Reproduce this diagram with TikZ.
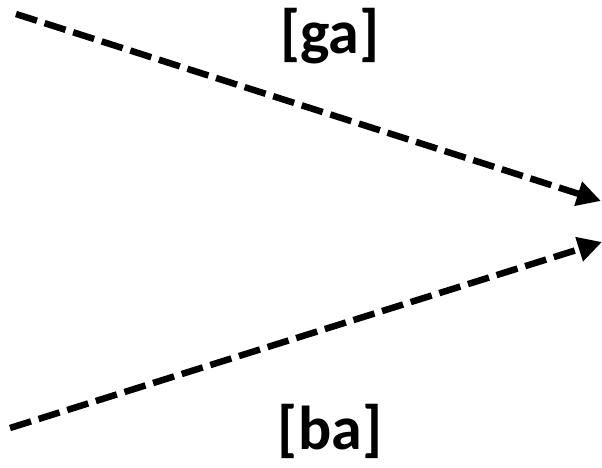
\documentclass[tikz,border=0pt]{standalone}
\usepackage{fontspec}
\setmainfont{Carlito}
\usetikzlibrary{arrows.meta}
\begin{document}
\begin{tikzpicture}[x=1pt,y=1pt,
  dasharrow/.style={line width=6.5pt,dash pattern=on 22pt off 8pt,-{Triangle[length=24pt,width=24pt]}},
  lbl/.style={font=\fontsize{62}{74}\selectfont\bfseries,inner sep=0pt}]
\useasboundingbox (0,0) rectangle (602,467);
\coordinate (s1) at (16,453);
\coordinate (e1) at (601,266);
\coordinate (s2) at (10,39);
\coordinate (e2) at (602,225);
\draw[dasharrow] (s1) -- (e1);
\draw[dasharrow] (s2) -- (e2);
\node[lbl] (ga) at (330,431) {[ga]};
\node[lbl] (ba) at (330,36) {[ba]};
\end{tikzpicture}
\end{document}
